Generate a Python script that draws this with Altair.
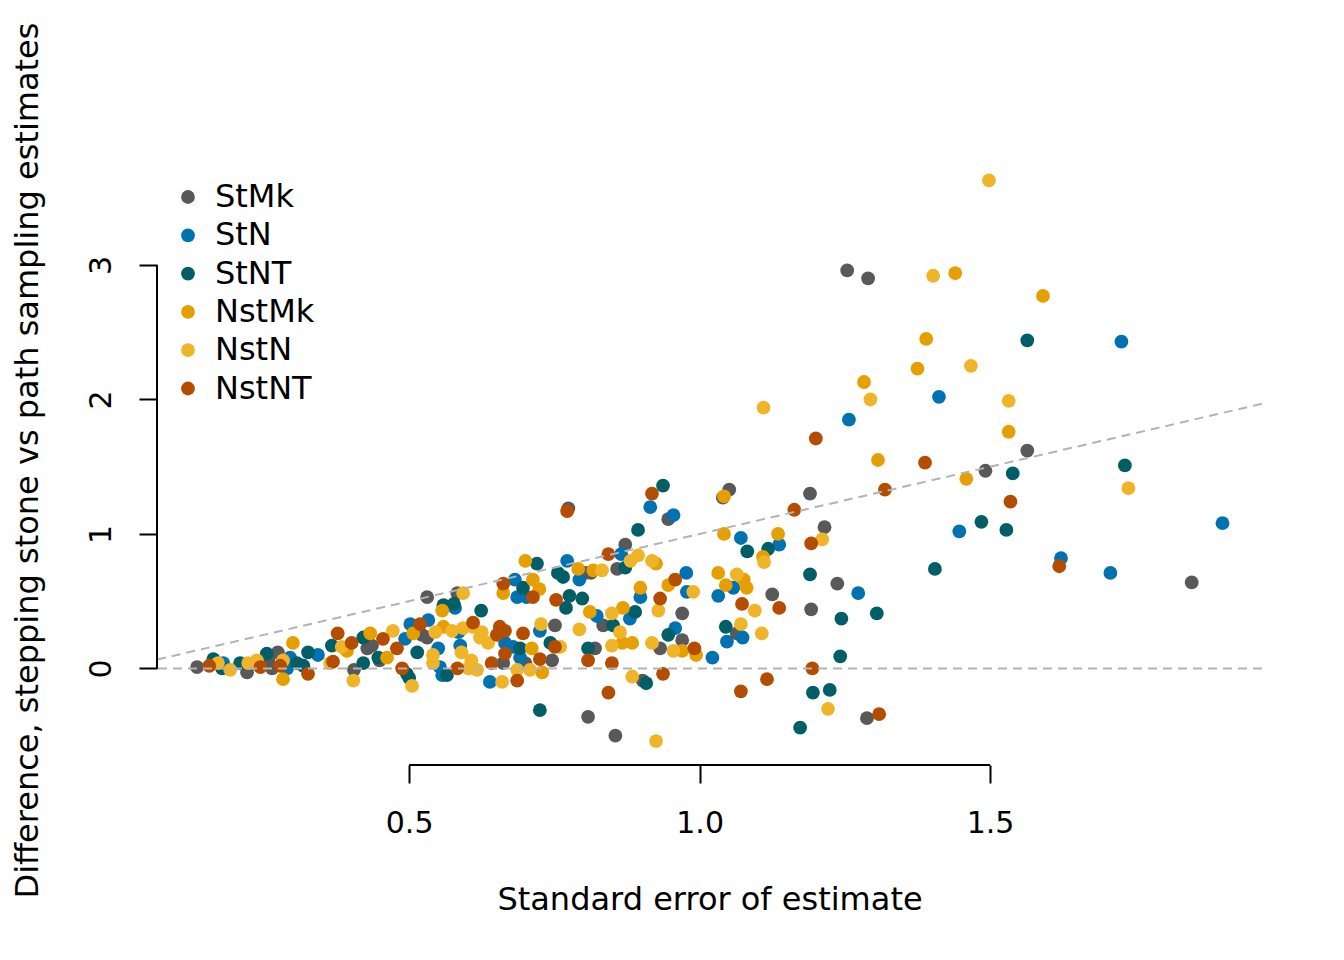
import altair as alt
import pandas as pd

FONT = "DejaVu Sans"

groups = ["StMk", "StN", "StNT", "NstMk", "NstN", "NstNT"]
colors = ["#595959", "#0072B2", "#005F66", "#E69F00", "#F0B429", "#B54D00"]

stmk_x = [0.135, 0.221, 0.258, 0.264, 0.274, 0.405, 0.428, 0.436, 0.449, 0.522,
          0.531, 0.531, 0.583, 0.662, 0.700, 0.746, 0.751, 0.808, 0.820, 0.834,
          0.855, 0.902, 0.932, 0.970, 0.970, 0.803, 0.813, 0.858, 0.872, 0.774,
          0.946, 1.040, 1.051, 1.064, 1.125, 1.190, 1.192, 1.215, 1.237, 1.254,
          1.290, 1.288, 1.492, 1.564, 1.847]
stmk_y = [0.01, -0.03, 0.07, 0.00, 0.12, -0.01, 0.15, 0.17, 0.06, 0.25,
          0.23, 0.53, 0.56, 0.04, 0.04, 0.06, 0.32, -0.36, 0.15, 0.32,
          -0.50, -0.09, 0.15, 0.41, 0.21, 0.71, 0.71, 0.74, 0.92, 1.19,
          1.11, 1.27, 1.33, 0.26, 0.55, 1.30, 0.44, 1.05, 0.63, 2.96,
          2.90, -0.37, 1.47, 1.62, 0.64]

stn_x = [0.180, 0.290, 0.295, 0.343, 0.493, 0.502, 0.533, 0.550, 0.553, 0.557,
         0.579, 0.585, 0.588, 0.639, 0.665, 0.679, 0.691, 0.725, 0.682, 0.686,
         0.702, 0.772, 0.793, 0.823, 0.865, 0.880, 0.898, 0.915, 0.955, 0.958,
         0.977, 0.978, 1.022, 1.032, 1.047, 1.058, 1.071, 1.074, 1.137, 1.257,
         1.273, 1.412, 1.447, 1.622, 1.707, 1.726, 1.900]
stn_y = [0.04, 0.00, 0.08, 0.10, 0.22, 0.33, 0.36, 0.15, 0.01, -0.05,
         0.45, 0.27, 0.17, -0.10, 0.19, 0.16, 0.08, 0.28, 0.66, 0.53,
         0.53, 0.80, 0.66, 0.39, 0.85, 0.37, 0.53, 1.20, 1.14, 0.30,
         0.71, 0.57, 0.08, 0.54, 0.20, 0.60, 0.97, 0.23, 0.92, 1.85,
         0.56, 2.02, 1.02, 0.82, 0.71, 2.43, 1.08]

stnt_x = [0.163, 0.178, 0.209, 0.255, 0.307, 0.318, 0.326, 0.367, 0.421, 0.421,
          0.447, 0.496, 0.500, 0.514, 0.559, 0.577, 0.565, 0.624, 0.696, 0.691,
          0.720, 0.725, 0.743, 0.756, 0.765, 0.776, 0.798, 0.770, 0.808, 0.851,
          0.872, 0.889, 0.894, 0.908, 0.937, 0.946, 1.045, 1.082, 1.118, 1.173,
          1.190, 1.195, 1.224, 1.242, 1.244, 1.305, 1.405, 1.485, 1.528, 1.539,
          1.564, 1.732]
stnt_y = [0.07, 0.00, 0.04, 0.11, 0.04, 0.02, 0.12, 0.17, 0.23, 0.04,
          0.08, -0.04, -0.07, 0.12, 0.47, 0.48, -0.05, 0.43, 0.60, 0.15,
          0.78, -0.31, 0.19, 0.71, 0.68, 0.54, 0.52, 0.45, 0.15, 0.32,
          0.75, 0.42, 1.03, -0.11, 1.36, 0.25, 0.31, 0.87, 0.89, -0.44,
          0.70, -0.18, -0.16, 0.09, 0.37, 0.41, 0.74, 1.09, 1.03, 1.45,
          2.44, 1.51]

nstmk_x = [0.283, 0.300, 0.393, 0.433, 0.462, 0.507, 0.557, 0.559, 0.662, 0.700,
           0.711, 0.713, 0.724, 0.729, 0.791, 0.811, 0.817, 0.867, 0.868, 0.884,
           0.898, 0.925, 0.946, 0.970, 0.994, 1.032, 1.042, 1.042, 1.045, 1.076,
           1.081, 1.109, 1.135, 1.283, 1.307, 1.375, 1.390, 1.440, 1.459, 1.532,
           1.591]
nstmk_y = [-0.08, 0.19, 0.13, 0.26, 0.08, 0.26, 0.43, 0.31, 0.56, 0.80,
           0.15, 0.66, 0.59, -0.03, 0.74, 0.42, 0.73, 0.19, 0.45, 0.19,
           0.60, 0.78, 0.62, 0.13, 0.10, 0.71, 1.28, 1.00, 0.62, 0.66,
           0.60, 0.83, 1.00, 2.13, 1.55, 2.23, 2.45, 2.94, 1.41, 1.76,
           2.77]

nstn_x = [0.171, 0.192, 0.223, 0.238, 0.283, 0.364, 0.384, 0.404, 0.472, 0.505,
          0.541, 0.541, 0.545, 0.574, 0.593, 0.593, 0.590, 0.602, 0.607, 0.610,
          0.617, 0.622, 0.625, 0.636, 0.660, 0.686, 0.708, 0.727, 0.760, 0.793,
          0.832, 0.849, 0.849, 0.863, 0.881, 0.894, 0.918, 0.918, 0.929, 0.884,
          0.955, 0.989, 1.064, 1.071, 1.095, 1.107, 1.111, 1.110, 1.211, 1.221,
          1.294, 1.402, 1.467, 1.498, 1.532, 1.738, 0.925]
nstn_y = [0.04, -0.01, 0.04, 0.06, 0.06, 0.04, 0.16, -0.09, 0.28, -0.13,
          0.04, 0.10, 0.27, 0.28, 0.56, 0.30, 0.12, 0.00, 0.06, 0.31,
          -0.01, 0.23, 0.27, 0.19, -0.10, -0.01, -0.01, 0.33, 0.16, 0.29,
          0.73, 0.41, 0.17, 0.27, 0.80, 0.84, 0.80, 0.19, 0.43, -0.06,
          0.13, 0.57, 0.70, 0.33, 0.43, 0.26, 0.79, 1.94, 0.96, -0.30,
          2.00, 2.92, 2.25, 3.63, 1.99, 1.34, -0.54]

nstnt_x = [0.156, 0.244, 0.278, 0.326, 0.369, 0.377, 0.401, 0.455, 0.479, 0.488,
           0.519, 0.583, 0.610, 0.642, 0.651, 0.656, 0.665, 0.665, 0.662, 0.686,
           0.696, 0.713, 0.725, 0.751, 0.753, 0.772, 0.808, 0.843, 0.843, 0.849,
           0.918, 0.932, 0.937, 0.958, 0.991, 1.071, 1.073, 1.116, 1.137, 1.163,
           1.192, 1.194, 1.200, 1.309, 1.319, 1.388, 1.535, 1.619]
nstnt_y = [0.02, 0.01, 0.02, -0.04, 0.05, 0.26, 0.19, 0.22, 0.15, 0.00,
           0.33, 0.00, 0.34, 0.04, 0.25, 0.31, 0.28, 0.11, 0.63, -0.09,
           0.26, 0.53, 0.07, 0.16, 0.51, 1.17, 0.06, 0.85, -0.18, 0.04,
           1.30, 0.52, -0.04, 0.66, 0.15, -0.17, 0.48, -0.08, 0.45, 1.18,
           0.93, 0.00, 1.71, -0.34, 1.33, 1.53, 1.24, 0.76]

x_ticks = [0.5, 1.0, 1.5]
y_ticks = [0, 1, 2, 3]
x_dom = [0.066, 1.968]
y_dom = [-0.718, 3.818]

all_x = [stmk_x, stn_x, stnt_x, nstmk_x, nstn_x, nstnt_x]
all_y = [stmk_y, stn_y, stnt_y, nstmk_y, nstn_y, nstnt_y]
rows = []
for g, xs, ys in zip(groups, all_x, all_y):
    for a, b in zip(xs, ys):
        rows.append({"group": g, "se": a, "diff": b})
df = pd.DataFrame(rows)

x_scale = alt.Scale(domain=x_dom, nice=False, zero=False)
y_scale = alt.Scale(domain=y_dom, nice=False, zero=False)

x_axis = alt.Axis(values=x_ticks, format=".1f", title="Standard error of estimate",
                  domain=False, grid=False, tickSize=18, tickWidth=2, tickColor="black",
                  labelFont=FONT, labelFontSize=30, labelColor="black", labelPadding=25,
                  titleFont=FONT, titleFontSize=32, titleFontWeight="normal",
                  titleColor="black", titlePadding=46)
y_axis = alt.Axis(values=y_ticks, format="d",
                  title="Difference, stepping stone vs path sampling estimates",
                  domain=False, grid=False, tickSize=18, tickWidth=2, tickColor="black",
                  labelFont=FONT, labelFontSize=30, labelColor="black", labelAngle=270,
                  labelAlign="center", labelBaseline="bottom", labelPadding=23,
                  titleFont=FONT, titleFontSize=32, titleFontWeight="normal",
                  titleColor="black", titlePadding=42)

X = lambda f: alt.X(f, scale=x_scale, axis=x_axis)
Y = lambda f: alt.Y(f, scale=y_scale, axis=y_axis)

points = alt.Chart(df).mark_circle(size=190, opacity=1).encode(
    x=X("se:Q"),
    y=Y("diff:Q"),
    color=alt.Color("group:N", scale=alt.Scale(domain=groups, range=colors),
                    legend=alt.Legend(title=None, orient="none", legendX=15, legendY=26,
                                      labelFont=FONT, labelFontSize=32, labelColor="black",
                                      symbolType="circle", symbolSize=190,
                                      symbolStrokeWidth=0, symbolOpacity=1,
                                      rowPadding=6.3, labelOffset=11, padding=0)),
)

hline = alt.Chart(pd.DataFrame({"diff": [0.0]})).mark_rule(
    color="#B3B3B3", strokeWidth=2, strokeDash=[9, 6]
).encode(y=Y("diff:Q"))

diag = alt.Chart(pd.DataFrame({"se": x_dom, "diff": x_dom})).mark_line(
    color="#B3B3B3", strokeWidth=2, strokeDash=[9, 6]
).encode(x=X("se:Q"), y=Y("diff:Q"))

x_line = alt.Chart(pd.DataFrame({"se": [x_ticks[0]], "se2": [x_ticks[-1]], "diff": [y_dom[0]]})).mark_rule(
    color="black", strokeWidth=2
).encode(x=X("se:Q"), x2="se2:Q", y=Y("diff:Q"))

y_line = alt.Chart(pd.DataFrame({"se": [x_dom[0]], "diff": [y_ticks[0]], "diff2": [y_ticks[-1]]})).mark_rule(
    color="black", strokeWidth=2
).encode(x=X("se:Q"), y=Y("diff:Q"), y2="diff2:Q")

chart = alt.layer(points, hline, diag, x_line, y_line).properties(
    width=1105, height=610,
    padding={"left": 149, "top": 147, "right": 74, "bottom": 180},
    autosize=alt.AutoSizeParams(type="none"),
    background="white",
).configure_view(stroke=None)

chart.save("out.html", embed_options={"renderer": "svg", "actions": False})
